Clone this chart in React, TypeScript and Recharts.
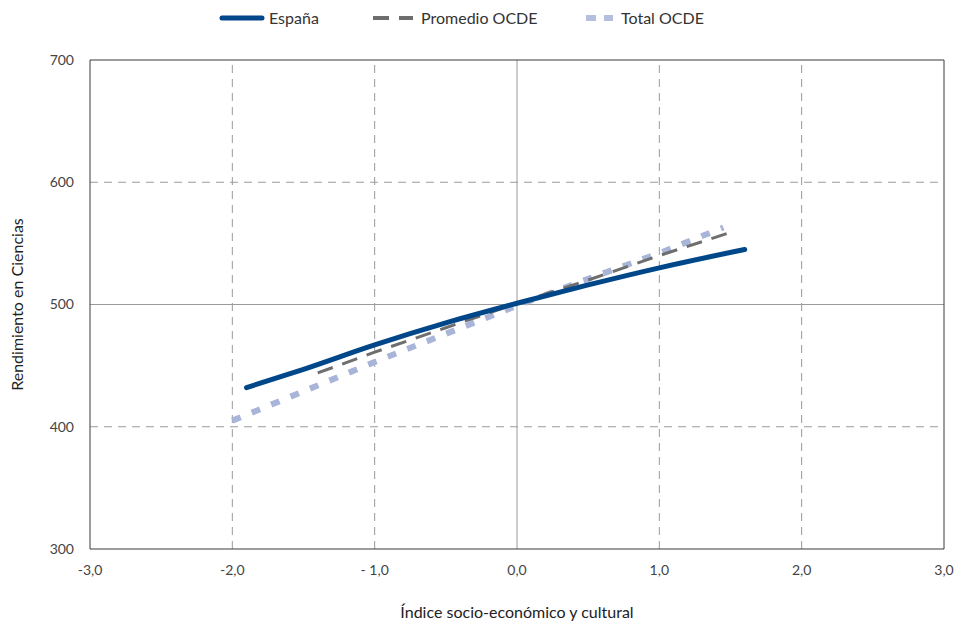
import React from "react";
import {
  LineChart,
  Line,
  XAxis,
  YAxis,
  ReferenceLine,
  Label,
} from "recharts";

// índice socio-económico (x) y rendimiento (y)
const espanaX = [-1.9, -1.5, -1.0, -0.5, 0, 0.5, 1.0, 1.6];
const espanaY = [432, 447, 467, 485, 501, 516, 530, 545];

const promedioX = [-1.4, -1.0, -0.5, 0, 0.5, 1.0, 1.5];
const promedioY = [444, 461, 481, 501, 520, 540, 559];

const totalX = [-2.0, -1.5, -1.0, -0.5, 0, 0.5, 1.0, 1.45];
const totalY = [405, 429, 453, 476, 499, 521, 542, 563];

const xTicks = [-3, -2, -1, 0, 1, 2, 3];
const xTickLabels = ["-3,0", "-2,0", "- 1,0", "0,0", "1,0", "2,0", "3,0"];
const yTicks = [300, 400, 500, 600, 700];

const toPoints = (xs: number[], ys: number[]) =>
  xs.map((x, i) => ({ x, y: ys[i] }));

const espana = toPoints(espanaX, espanaY);
const promedio = toPoints(promedioX, promedioY);
const total = toPoints(totalX, totalY);

const FONT = "Lato, 'Open Sans', sans-serif";
const AXIS = "#3a3a3a";
const GRID = "#9a9a9a";

const legendItems = [
  { name: "España", color: "#00478a", dash: undefined, width: 5, lx: 222, tx: 269 },
  { name: "Promedio OCDE", color: "#6e6e6e", dash: "16 10", width: 4, lx: 373, tx: 421 },
  { name: "Total OCDE", color: "#b4bedd", dash: "10 8", width: 6, lx: 586, tx: 621 },
];

function ChartLegend() {
  return (
    <svg
      width={957}
      height={36}
      style={{ position: "absolute", left: 0, top: 0 }}
    >
      {legendItems.map((it) => (
        <g key={it.name}>
          <line
            x1={it.lx}
            x2={it.dash ? it.tx - 8 : it.lx + 40}
            y1={18}
            y2={18}
            stroke={it.color}
            strokeWidth={it.width}
            strokeDasharray={it.dash}
            strokeLinecap={it.dash ? "butt" : "round"}
          />
          <text
            x={it.tx}
            y={24}
            fontFamily={FONT}
            fontSize={16}
            fill="#333"
          >
            {it.name}
          </text>
        </g>
      ))}
    </svg>
  );
}

export default function App() {
  const tick = { fontFamily: FONT, fontSize: 14, fill: "#444" };
  return (
    <div style={{ position: "absolute", left: 0, top: 0, width: 957, height: 625 }}>
      <LineChart
        width={957}
        height={625}
        margin={{ top: 60, right: 13, bottom: 46, left: 30 }}
      >
        <XAxis
          type="number"
          dataKey="x"
          domain={[-3, 3]}
          ticks={xTicks}
          tickFormatter={(v: number) => xTickLabels[xTicks.indexOf(v)]}
          axisLine={{ stroke: AXIS }}
          tickLine={false}
          tick={tick}
          tickMargin={10}
          height={30}
          allowDataOverflow
        >
          <Label
            value="Índice socio-económico y cultural"
            position="insideBottom"
            offset={-39}
            style={{ fontFamily: FONT, fontSize: 16, fill: "#222" }}
          />
        </XAxis>
        <YAxis
          type="number"
          dataKey="y"
          domain={[300, 700]}
          ticks={yTicks}
          axisLine={{ stroke: AXIS }}
          tickLine={false}
          tick={tick}
          tickMargin={10}
          width={60}
          allowDataOverflow
        >
          <Label
            value="Rendimiento en Ciencias"
            angle={-90}
            position="insideLeft"
            offset={-13}
            style={{
              fontFamily: FONT,
              fontSize: 16,
              fill: "#222",
              textAnchor: "middle",
            }}
          />
        </YAxis>

        {[-2, -1, 1, 2].map((v) => (
          <ReferenceLine key={"vx" + v} x={v} stroke={GRID} strokeDasharray="8 6" />
        ))}
        {[400, 600].map((v) => (
          <ReferenceLine key={"hy" + v} y={v} stroke={GRID} strokeDasharray="8 6" />
        ))}
        <ReferenceLine x={0} stroke={GRID} />
        <ReferenceLine y={500} stroke={GRID} />
        <ReferenceLine y={700} stroke={AXIS} />
        <ReferenceLine x={3} stroke={AXIS} />

        <Line
          data={total}
          dataKey="y"
          name="Total OCDE"
          stroke="#a8b4d8"
          strokeWidth={6}
          strokeDasharray="9 12"
          dot={false}
          isAnimationActive={false}
        />
        <Line
          data={promedio}
          dataKey="y"
          name="Promedio OCDE"
          stroke="#6e6e6e"
          strokeWidth={3}
          strokeDasharray="16 10"
          dot={false}
          isAnimationActive={false}
        />
        <Line
          data={espana}
          dataKey="y"
          name="España"
          type="monotone"
          stroke="#00478a"
          strokeWidth={5}
          strokeLinecap="round"
          dot={false}
          isAnimationActive={false}
        />
      </LineChart>
      <ChartLegend />
    </div>
  );
}
